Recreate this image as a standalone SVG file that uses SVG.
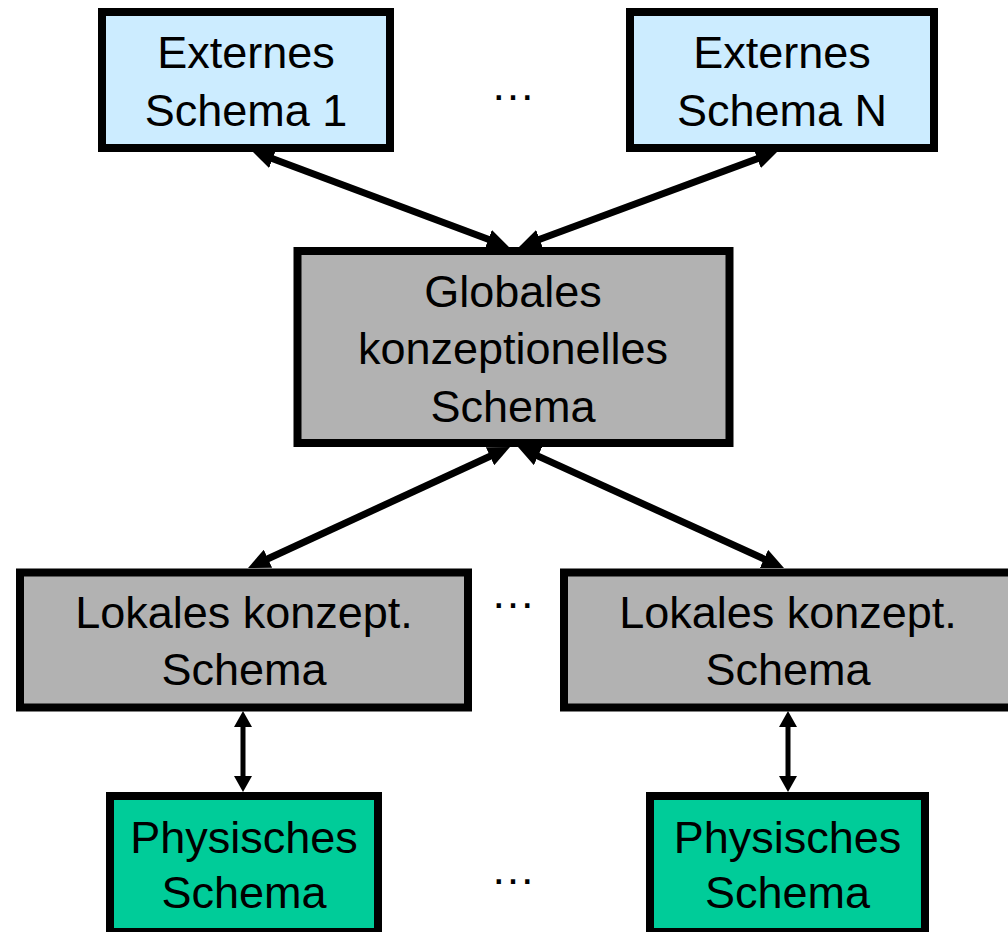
<svg xmlns="http://www.w3.org/2000/svg" width="1008" height="932" viewBox="0 0 1008 932">
<style>
.box{stroke:#000;stroke-width:8}
.ext{fill:#CCECFF}
.gray{fill:#B2B2B2}
.phys{fill:#00CC99}
text{font-family:"Liberation Sans",Arial,sans-serif;font-size:45px;fill:#000;text-anchor:middle}
.thick{stroke:#000;stroke-width:7;fill:none;marker-start:url(#ah);marker-end:url(#ah)}
.thin{stroke:#000;stroke-width:5;fill:none;marker-start:url(#ahs);marker-end:url(#ahs)}
</style>
<defs>
<marker id="ah" markerUnits="userSpaceOnUse" markerWidth="22" markerHeight="20" refX="12" refY="10" orient="auto-start-reverse"><path d="M0,0 L22,10 L0,20 Z" fill="#000"/></marker>
<marker id="ahs" markerUnits="userSpaceOnUse" markerWidth="16" markerHeight="18" refX="9" refY="9" orient="auto-start-reverse"><path d="M0,0 L16,9 L0,18 Z" fill="#000"/></marker>
</defs>
<rect width="1008" height="932" fill="#fff"/>
<g id="connectors">
<line class="thick" x1="261.4" y1="154.5" x2="499.6" y2="243.5"/>
<line class="thick" x1="768.6" y1="154.5" x2="528.4" y2="243.5"/>
<line class="thick" x1="500.9" y1="451.2" x2="257.1" y2="563.8"/>
<line class="thick" x1="527.1" y1="451.1" x2="774.9" y2="563.9"/>
<line class="thin" x1="243" y1="718" x2="243" y2="785"/>
<line class="thin" x1="788" y1="718" x2="788" y2="785"/>
</g>
<g id="ext1"><rect class="box ext" x="102" y="12" width="288" height="136"/><text x="246" y="68">Externes</text><text x="246" y="126">Schema 1</text></g>
<g id="extN"><rect class="box ext" x="630" y="12" width="304" height="136"/><text x="782" y="68">Externes</text><text x="782" y="126">Schema N</text></g>
<g id="dots1"><text x="513" y="100">…</text></g>
<g id="global"><rect class="box gray" x="297.5" y="251" width="432" height="192"/><text x="513" y="307">Globales</text><text x="513" y="364">konzeptionelles</text><text x="513" y="422">Schema</text></g>
<g id="lok1"><rect class="box gray" x="20" y="572.5" width="448" height="135"/><text x="244" y="628">Lokales konzept.</text><text x="244" y="685">Schema</text></g>
<g id="lok2"><rect class="box gray" x="564" y="572.5" width="448" height="135"/><text x="788" y="628">Lokales konzept.</text><text x="788" y="685">Schema</text></g>
<g id="dots2"><text x="513" y="608">…</text></g>
<g id="phys1"><rect class="box phys" x="110" y="796" width="268" height="136"/><text x="244" y="853">Physisches</text><text x="244" y="908">Schema</text></g>
<g id="phys2"><rect class="box phys" x="650" y="796" width="275" height="136"/><text x="787.5" y="853">Physisches</text><text x="787.5" y="908">Schema</text></g>
<g id="dots3"><text x="513" y="884">…</text></g>
</svg>
